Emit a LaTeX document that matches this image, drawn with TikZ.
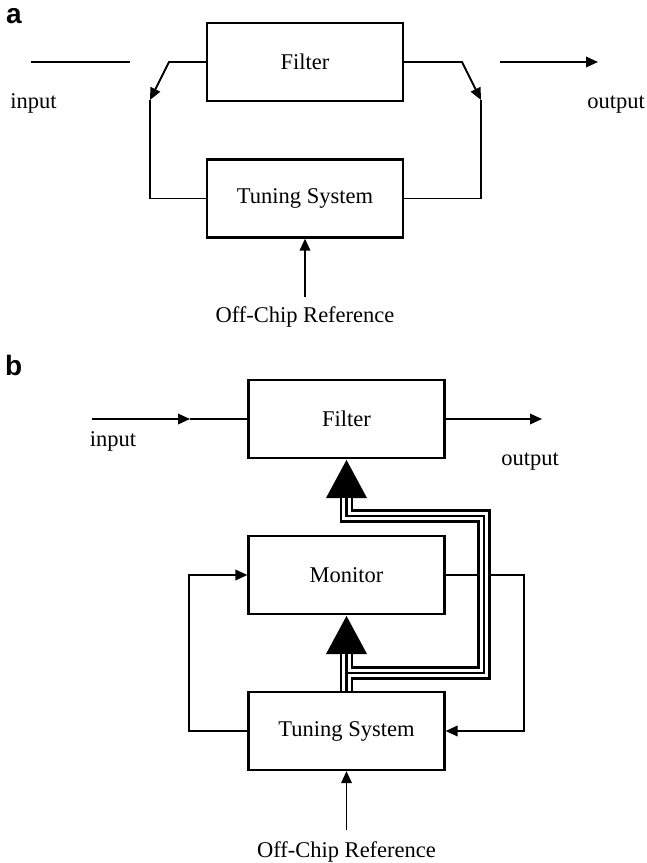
\documentclass[tikz,border=0pt]{standalone}
\usepackage{fontspec}
\setmainfont{Liberation Serif}
\newfontfamily\labfont{Liberation Sans}
\usetikzlibrary{arrows.meta}
\tikzstyle{block} = [rectangle, minimum width=196pt, minimum height=78pt, inner sep=0pt, text centered, draw=black, line width=2.2pt]
\tikzstyle{line} = [line width=1.9pt]
\tikzstyle{arrow} = [line width=1.9pt, -{Triangle[length=12pt,width=10.5pt]}]
\tikzstyle{busout} = [line width=13.5pt, line join=miter]
\tikzstyle{busmid} = [draw=white, line width=8.1pt, line join=miter, shorten >=39pt]
\tikzstyle{busin} = [line width=2.7pt, line join=miter, shorten >=39pt]
\tikzstyle{bigtip} = [-{Triangle[length=39pt,width=38pt]}]
\tikzstyle{part} = [font=\labfont\bfseries\fontsize{28}{30}\selectfont, anchor=base west, inner sep=0pt]
\tikzstyle{lbl} = [anchor=base, inner sep=0pt]

\begin{document}
\begin{tikzpicture}[x=1pt, y=-1pt, node distance=156pt, font=\fontsize{22.5}{27}\selectfont]
\useasboundingbox (0,0) rectangle (647,863);

%Part a==============================================
\node (lba) [part] at (6,23) {a};
\node (filA) [block] at (305,62) {Filter};
\node (tunA) [block, below of=filA, yshift=19.5pt] {Tuning System};

\coordinate (inA) at (31,62);
\coordinate (inAend) at (130,62);
\coordinate (swL) at (150,100);
\coordinate (swR) at (481,100);
\coordinate (outA) at (500,62);
\coordinate (outAend) at (598,62);
\coordinate (refA) at (305,297);

\node (inAtxt) [lbl] at (33.5,108) {input};
\node (outAtxt) [lbl] at (616,108) {output};
\node (refAtxt) [lbl] at (305,322) {Off-Chip Reference};

\draw [line] (inA) -- (inAend);
\draw [arrow] (filA.west) -- (169,62) -- (swL);
\draw [line] (swL) |- (tunA.west);
\draw [arrow] (filA.east) -- (462,62) -- (swR);
\draw [line] (swR) |- (tunA.east);
\draw [arrow] (outA) -- (outAend);
\draw [arrow] (refA) -- (tunA.south);

%Part b==============================================
\node (lbb) [part] at (5,375) {b};
\node (filB) [block] at (346.5,419) {Filter};
\node (monB) [block, below of=filB] {Monitor};
\node (tunB) [block, below of=monB] {Tuning System};

\coordinate (inB) at (92,419);
\coordinate (inBmid) at (190,419);
\coordinate (outB) at (542,419);
\coordinate (refB) at (346.5,830);
\coordinate (busA) at (346.5,673);
\coordinate (busB) at (484,516);

\node (inBtxt) [lbl] at (113,446) {input};
\node (outBtxt) [lbl] at (530,465) {output};
\node (refBtxt) [lbl] at (346.5,857) {Off-Chip Reference};

\draw [arrow] (inB) -- (inBmid);
\draw [line] (inBmid) -- (filB.west);
\draw [arrow] (filB.east) -- (outB);
\draw [arrow] (tunB.west) -- ++(-58pt,0) |- (monB.west);
\draw [arrow] (monB.east) -- ++(78pt,0) |- (tunB.east);
\draw [arrow] (refB) -- (tunB.south);

%bus: outer, gap, middle
\draw [busout, bigtip] (tunB.north) -- (monB.south);
\draw [busout, bigtip] (busA) -| (busB) -| (filB.south);
\draw [busmid] (tunB.north) -- (monB.south);
\draw [busmid] (busA) -| (busB) -| (filB.south);
\draw [busin] (tunB.north) -- (monB.south);
\draw [busin] (busA) -| (busB) -| (filB.south);
\end{tikzpicture}
\end{document}
